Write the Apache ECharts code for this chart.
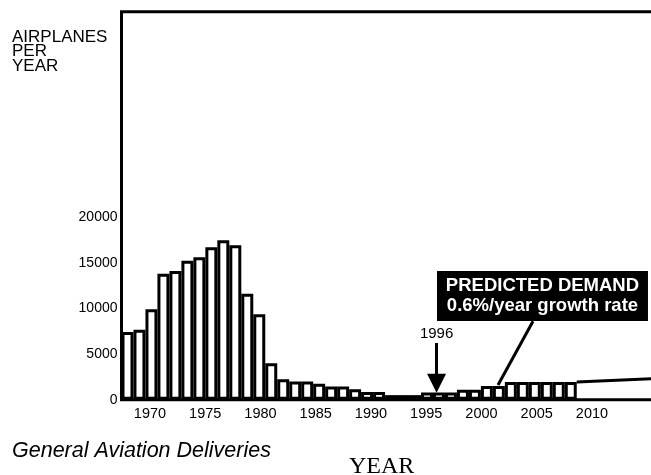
<!DOCTYPE html>
<html><head><meta charset="utf-8">
<script src="https://cdn.jsdelivr.net/npm/echarts@6/dist/echarts.min.js"></script>
<style>html,body{margin:0;padding:0;background:#fff}#c{width:651px;height:475px}</style>
</head><body><div id="c"></div>
<script>
// Bar categories (one bar per year slot)
const years = ['1970','1971','1972','1973','1974','1975','1976','1977','1978','1979',
  '1980','1981','1982','1983','1984','1985','1986','1987','1988','1989',
  '1990','1991','1992','1993','1994','1995','1996','1997','1998','1999',
  '2000','2001','2002','2003','2004','2005','2006','2007','2008','2009',
  '2010','2011','2012','2013','2014'];
// Airplanes delivered per year
const deliveries = [7400, 7650, 9900, 13800, 14100, 15200, 15600, 16700, 17450, 16900,
  11600, 9350, 4000, 2250, 2000, 2000, 1750, 1450, 1450, 1150,
  850, 850, 500, 500, 500, 800, 800, 800, 1100, 1100,
  1500, 1500, 1950, 1950, 1950, 1950, 1950, 1950];
// Predicted demand line (after the last bar)
const predictedYears = [2008, 2015];
const predictedValues = [1950, 2350];
// Tick labels
const xTickLabels = [1970, 1975, 1980, 1985, 1990, 1995, 2000, 2005, 2010];
const yTickLabels = [0, 5000, 10000, 15000, 20000];

const FONT = 'Liberation Sans';
const YMAX = 42474;
const chart = echarts.init(document.getElementById('c'), null, {renderer: 'canvas'});

chart.setOption({
  animation: false,
  backgroundColor: '#fff',
  title: [
    {text: 'AIRPLANES\nPER\nYEAR', left: 12, top: 30, padding: 0,
     textStyle: {fontFamily: FONT, fontSize: 17, fontWeight: 'normal', color: '#000', lineHeight: 14.5}},
    {text: 'General Aviation Deliveries', left: 12, top: 439, padding: 0,
     textStyle: {fontFamily: FONT, fontSize: 21.5, fontStyle: 'italic', fontWeight: 'normal', color: '#000', lineHeight: 24}},
    {text: 'YEAR', left: 349, top: 454, padding: 0,
     textStyle: {fontFamily: 'Liberation Serif', fontSize: 24, fontWeight: 'normal', color: '#000', lineHeight: 26}}
  ],
  grid: [
    {left: 121.5, width: 539.1, top: 11.7, bottom: 75.3, outerBoundsMode: 'none', containLabel: false,
     show: true, borderColor: '#000', borderWidth: 3, backgroundColor: 'transparent'},
    {left: 94.75, width: 607.75, top: 11.7, bottom: 75.3, outerBoundsMode: 'none', containLabel: false, show: false}
  ],
  xAxis: [
    {type: 'category', gridIndex: 0, data: years, boundaryGap: true,
     axisLine: {show: false}, axisTick: {show: false}, axisLabel: {show: false}, splitLine: {show: false}},
    {type: 'value', gridIndex: 0, min: 1970, max: 2015, show: false},
    {type: 'value', gridIndex: 1, min: 1965, max: 2020, interval: 5,
     axisLine: {show: false}, axisTick: {show: false}, splitLine: {show: false},
     axisLabel: {fontFamily: FONT, fontSize: 14.5, color: '#000', margin: 7,
       formatter: v => xTickLabels.includes(v) ? String(v) : ''}}
  ],
  yAxis: [
    {type: 'value', gridIndex: 0, min: 0, max: YMAX, interval: 5000,
     axisLine: {show: false}, axisTick: {show: false}, splitLine: {show: false},
     axisLabel: {fontFamily: FONT, fontSize: 14, color: '#000', margin: 4,
       formatter: v => yTickLabels.includes(v) ? String(v) : ''}},
    {type: 'value', gridIndex: 1, min: 0, max: YMAX, show: false}
  ],
  series: [
    {type: 'bar', xAxisIndex: 0, yAxisIndex: 0, data: deliveries, barCategoryGap: 0, barGap: 0,
     itemStyle: {color: '#fff', borderColor: '#000', borderWidth: 3}, silent: true, z: 3},
    {type: 'line', xAxisIndex: 1, yAxisIndex: 0,
     data: predictedYears.map((y, i) => [y, predictedValues[i]]),
     symbol: 'none', lineStyle: {color: '#000', width: 3}, silent: true, z: 4,
     markLine: {
       silent: true, animation: false, symbol: ['none', 'none'],
       lineStyle: {color: '#000', width: 3, type: 'solid'},
       label: {show: false},
       data: [
         [{coord: [1996.3, 6207], symbol: 'none',
           label: {show: true, position: 'start', formatter: '1996', distance: 2,
                   fontFamily: FONT, fontSize: 15, color: '#000'}},
          {coord: [1996.3, 1800], symbol: 'triangle', symbolSize: [19, 19]}],
         [{coord: [2001.43, 1600]}, {coord: [2004.35, 8583]}]
       ]
     },
     markPoint: {
       silent: true, animation: false,
       data: [{coord: [2005.14, 11352], symbol: 'rect', symbolSize: [211, 50],
         itemStyle: {color: '#000'},
         label: {show: true, position: 'inside',
           formatter: 'PREDICTED DEMAND\n0.6%/year growth rate',
           color: '#fff', fontWeight: 'bold', fontSize: 18.5, lineHeight: 20, fontFamily: FONT}}]
     }
    }
  ]
});
</script></body></html>
